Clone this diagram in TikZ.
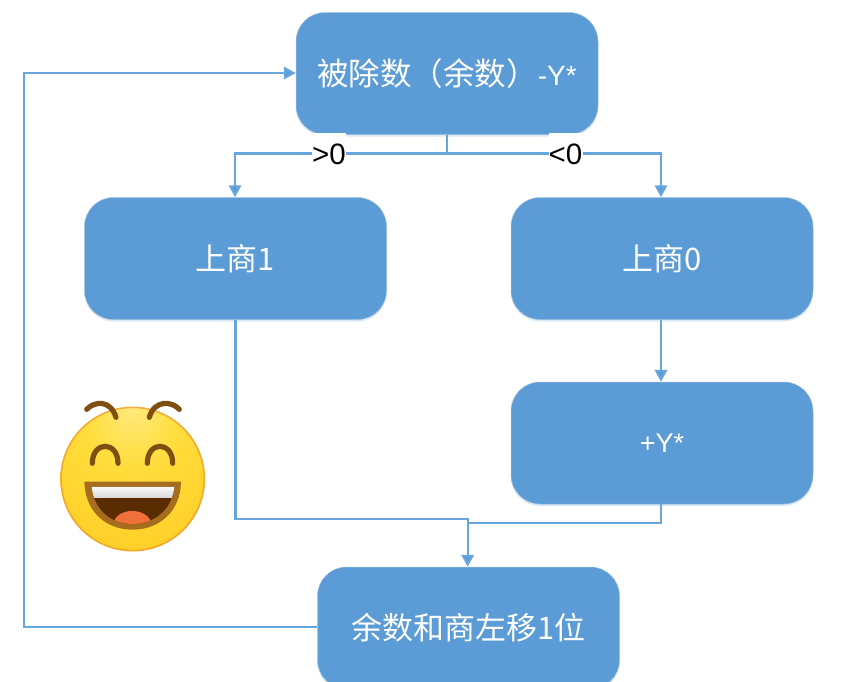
\documentclass[tikz,border=0pt]{standalone}
\usepackage{fontspec}
\setmainfont{Liberation Sans}
\newfontfamily\cjk{Noto Sans CJK SC}
\usetikzlibrary{arrows.meta,shadows}
\definecolor{boxblue}{HTML}{5B9BD6}
\definecolor{linkblue}{HTML}{69A6DE}
\definecolor{emobrown}{HTML}{7E4F10}
\definecolor{emoA}{HTML}{FFE97A}
\definecolor{emoB}{HTML}{FFDD3C}
\definecolor{emoC}{HTML}{FFCF28}
\definecolor{emoD}{HTML}{FFB81E}
\definecolor{emoE}{HTML}{F59A22}
\definecolor{emoRim}{HTML}{EE8A2A}
\definecolor{emoMouth}{HTML}{5A2C02}
\definecolor{emoLip}{HTML}{A66E1C}
\definecolor{emoTongue}{HTML}{F0703A}
\pgfdeclareradialshading{emoface}{\pgfpoint{0bp}{24bp}}{%
 color(0bp)=(emoA);
 color(16bp)=(emoB);
 color(40bp)=(emoC);
 color(60bp)=(emoD);
 color(74bp)=(emoE);
 color(100bp)=(emoE)}
\tikzset{
 flowbox/.style={rectangle,rounded corners=29pt,fill=boxblue,draw=boxblue!75!gray!60,line width=.5pt,
   minimum width=302pt,minimum height=122pt,inner sep=0pt,text=white,
   general shadow={fill=boxblue!22,shadow yshift=-2pt},
   font=\fontsize{31}{36}\selectfont\cjk},
 link/.style={draw=linkblue,line width=2.2pt},
 arrowlink/.style={link,-{Triangle[length=12pt,width=12.5pt,fill=boxblue]}},
 cmplabel/.style={fill=white,inner sep=0pt,minimum width=34pt,minimum height=42pt,text=black,
   font=\fontsize{29.5}{32}\selectfont},
 emoline/.style={draw=emobrown,line width=5.2pt,line cap=round},
}
\begin{document}
\begin{tikzpicture}[x=1pt,y=-1pt]
\clip (0,0) rectangle (841,681);
\fill[white] (0,0) rectangle (841,681);
% nodes
\node[flowbox,font=\fontsize{31.5}{36}\selectfont\cjk] (top) at (447,73.5) {被除数（余数）{\fontsize{28}{32}\selectfont\rmfamily -Y*}};
\node[flowbox] (yes) at (235.5,258.5) {上商1};
\node[flowbox] (no) at (662,258.5) {上商0};
\node[flowbox] (addy) at (662,443) {\fontsize{27}{32}\selectfont\rmfamily +Y*};
\node[flowbox] (shift) at (468.5,628) {余数和商左移1位};
% junctions
\coordinate (split) at (447,153.5);
\coordinate (mergeA) at (467.7,519.3);
\coordinate (mergeB) at (467.7,522.7);
\coordinate (outer) at (24,73);
% connectors
\draw[arrowlink] (top.south) -- (split) -| ([xshift=-.5pt]yes.north);
\draw[arrowlink] (split) -| ([xshift=-1pt]no.north);
\draw[arrowlink] ([xshift=-1pt]no.south) -- ([xshift=-1pt]addy.north);
\draw[link] (yes.south) |- (mergeA) -- (mergeB);
\draw[link] ([xshift=-1pt]addy.south) |- (mergeB);
\draw[arrowlink] (mergeA) -- (mergeA |- shift.north);
\draw[arrowlink] (shift.west |- 0,627) -- (24,627) -- (outer) -- (top.west |- outer);
% labels
\node[cmplabel] (gt) at (329,154) {>0};
\node[cmplabel] (lt) at (565.5,154) {<0};
% emoji
\begin{scope}[shift={(40,380)},x=.3333pt,y=-.3333pt]
 \shade[shading=emoface] (278,297) circle (217);
 \draw[emoRim,opacity=.6,line width=1.6pt] (278,297) circle (215);
 \draw[emoline] (140,88) .. controls (165,62) and (212,60) .. (228,112);
 \draw[emoline] (328,112) .. controls (342,60) and (395,62) .. (418,88);
 \draw[emoline] (157,250) .. controls (157,182) and (234,182) .. (234,250);
 \draw[emoline] (322,250) .. controls (322,182) and (398,182) .. (398,250);
 \fill[emoLip] (133,305) -- (423,305) .. controls (422,395) and (357,449) .. (278,449) .. controls (198,449) and (135,395) .. (133,305) -- cycle;
 \begin{scope}
  \clip (155,321) -- (403,321) .. controls (395,392) and (340,432) .. (278,432) .. controls (215,432) and (163,392) .. (155,321) -- cycle;
  \fill[emoMouth] (150,315) rectangle (410,440);
  \shade[top color=white!96!gray,bottom color=white!70!gray] (150,318) rectangle (410,353);
  \fill[emoTongue] (220,432) .. controls (228,380) and (325,380) .. (335,432) -- cycle;
 \end{scope}
\end{scope}
\end{tikzpicture}
\end{document}
